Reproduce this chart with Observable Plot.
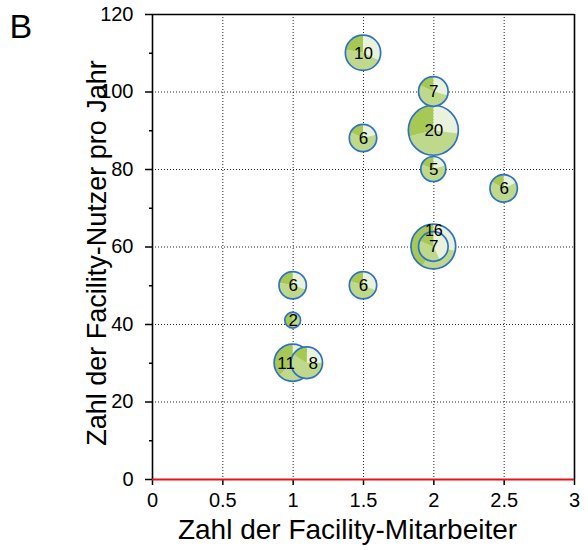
<!DOCTYPE html>
<html>
<head>
<meta charset="utf-8">
<script src="https://cdn.jsdelivr.net/npm/d3@7"></script>
<script src="https://cdn.jsdelivr.net/npm/@observablehq/plot@0.6"></script>
<style>
  html, body { margin: 0; padding: 0; background: #fff; }
  #chart svg { display: block; }
</style>
</head>
<body>
<div id="chart"></div>
<script>
// Data (drawing order matters for overlaps)
const staff   = [1.5, 2,   2,   1.5, 2,   2.5, 2,   2,   1,   1.5, 1,   1,   1.1];
const users   = [110, 100, 90,  88,  80,  75,  60,  60,  50,  50,  41,  30,  30];
const counts  = [10,  7,   20,  6,   5,   6,   16,  7,   6,   6,   2,   11,  8];
// pie shares (clockwise from 12 o'clock): light, medium, dark
const shareLight  = [0.32, 0.29, 0.27, 0.21, 0.20, 0.18, 0.28, 0.43, 0.30, 0.31, 0.00, 0.08, 0.25];
const shareMedium = [0.46, 0.53, 0.44, 0.61, 0.61, 0.65, 0.30, 0.39, 0.48, 0.49, 0.50, 0.55, 0.59];
const shareDark   = [0.22, 0.18, 0.29, 0.18, 0.19, 0.17, 0.42, 0.18, 0.22, 0.20, 0.50, 0.37, 0.16];
// where each count label sits on its bubble
const labelPlace  = ["center", "center", "center", "center", "center", "center", "top", "center", "center", "center", "center", "left", "right"];

const xTicks = [0, 0.5, 1, 1.5, 2, 2.5, 3];
const yTicks = [0, 20, 40, 60, 80, 100, 120];
const yMinorTicks = [10, 30, 50, 70, 90, 110];
const xGrid = [0.5, 1, 1.5, 2, 2.5];
const yGrid = [20, 40, 60, 80, 100];

const xTitle = "Zahl der Facility-Mitarbeiter";
const yTitle = "Zahl der Facility-Nutzer pro Jahr";
const panelLabel = "B";

const sliceColors = ["#e9f2da", "#bfd98c", "#a6c955"];
const outline = "#2f72c4";

const data = staff.map((x, i) => ({
  x, y: users[i], n: counts[i],
  shares: [shareLight[i], shareMedium[i], shareDark[i]],
  place: labelPlace[i]
}));

const pieRender = (index, scales, values) => {
  const g = d3.create("svg:g");
  const arc = d3.arc();
  for (const i of index) {
    const cx = values.x[i], cy = values.y[i], r = values.r[i];
    const gg = g.append("g").attr("transform", `translate(${cx},${cy})`);
    let a0 = 0;
    data[i].shares.forEach((f, k) => {
      if (f <= 0) return;
      const a1 = a0 + f * 2 * Math.PI;
      gg.append("path")
        .attr("d", arc({innerRadius: 0, outerRadius: r, startAngle: a0, endAngle: a1}))
        .attr("fill", sliceColors[k]);
      a0 = a1;
    });
    gg.append("circle").attr("r", r).attr("fill", "none")
      .attr("stroke", outline).attr("stroke-width", 1.7);
  }
  return g.node();
};

const labelMark = (place, dx, dy, size) => Plot.text(data, {
  x: "x", y: "y", text: d => String(d.n), dx, dy,
  fontSize: size, fill: "#000", textAnchor: "middle", lineAnchor: "middle",
  filter: d => d.place === place
});

const chart = Plot.plot({
  width: 588,
  height: 550,
  marginLeft: 152,
  marginRight: 14,
  marginTop: 14,
  marginBottom: 71,
  style: {fontFamily: "Liberation Sans, Arial, sans-serif", background: "#fff"},
  x: {domain: [0, 3]},
  y: {domain: [0, 120]},
  r: {type: "sqrt", domain: [0, 20], range: [0, 25]},
  marks: [
    Plot.gridX(xGrid, {stroke: "#000", strokeOpacity: 0.85, strokeDasharray: "1,2"}),
    Plot.gridY(yGrid, {stroke: "#000", strokeOpacity: 0.85, strokeDasharray: "1,2"}),
    Plot.axisX({ticks: xTicks, tickSize: 6, tickPadding: 7, fontSize: 20, label: null,
      tickFormat: d => String(d), stroke: "#000", strokeWidth: 1.5}),
    Plot.axisY({ticks: yTicks, tickSize: 7, tickPadding: 12, fontSize: 20, label: null,
      stroke: "#000", strokeWidth: 1.5}),
    Plot.axisY({ticks: yMinorTicks, tickSize: 3, text: null, label: null, stroke: "#000", strokeWidth: 1.5}),
    Plot.ruleX([0, 3], {stroke: "#000", strokeWidth: 1.6}),
    Plot.ruleY([120], {stroke: "#000", strokeWidth: 1.6}),
    Plot.ruleY([0], {stroke: "#e8101a", strokeWidth: 1.8}),
    Plot.dot(data, {x: "x", y: "y", r: "n", render: pieRender}),
    labelMark("center", 0, 0, 17),
    labelMark("top", 0, -16, 16),
    labelMark("left", -7, 0, 17),
    labelMark("right", 6, 0, 17),
    Plot.text([yTitle], {frameAnchor: "left", dx: -55, dy: 6, rotate: -90, fontSize: 27,
      textAnchor: "middle", lineAnchor: "middle", fill: "#000"}),
    Plot.text([xTitle], {frameAnchor: "bottom", dx: -16, dy: 51, fontSize: 28,
      textAnchor: "middle", lineAnchor: "middle", fill: "#000"}),
    Plot.text([panelLabel], {frameAnchor: "top-left", dx: -143, dy: -1, fontSize: 34,
      textAnchor: "start", lineAnchor: "top", fill: "#000"})
  ]
});

document.getElementById("chart").appendChild(chart);
</script>
</body>
</html>
